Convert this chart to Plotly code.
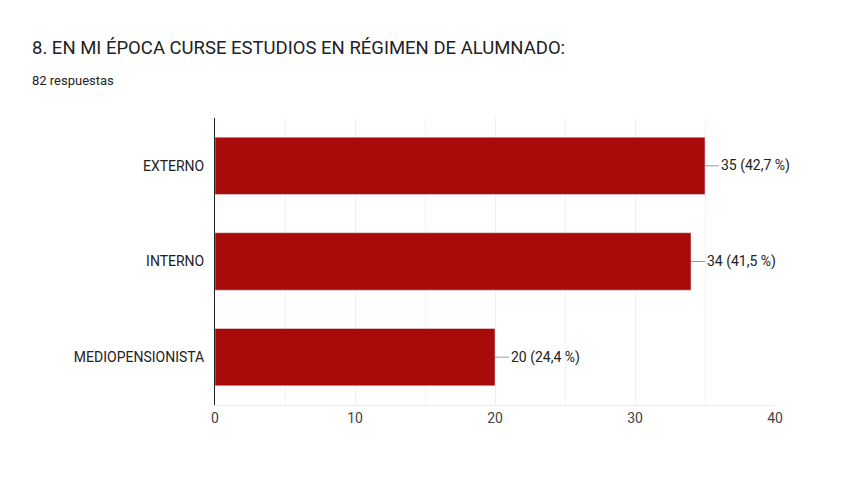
import plotly.graph_objects as go

categories = ["EXTERNO", "INTERNO", "MEDIOPENSIONISTA"]
counts = [35, 34, 20]
labels = ["35 (42,7 %)", "34 (41,5 %)", "20 (24,4 %)"]

fig = go.Figure(go.Bar(
    x=counts, y=categories, orientation="h",
    marker_color="#a90a0a", width=0.6, hoverinfo="skip",
))

for v, c, t in zip(counts, categories, labels):
    fig.add_annotation(x=v, y=c, text=t, showarrow=True, arrowhead=0,
                       arrowwidth=1, arrowcolor="#999999", ax=14, ay=0,
                       xanchor="left", font=dict(size=14, color="#222222"))

fig.add_annotation(text="8. EN MI ÉPOCA CURSE ESTUDIOS EN RÉGIMEN DE ALUMNADO:",
                   xref="paper", yref="paper", x=-185/560, y=1 + 70/287,
                   xanchor="left", yanchor="middle", showarrow=False,
                   font=dict(size=18.5, color="#222222"))
fig.add_annotation(text="82 respuestas", xref="paper", yref="paper",
                   x=-185/560, y=1 + 38/287, xanchor="left", yanchor="middle",
                   showarrow=False, font=dict(size=13, color="#222222"))

fig.update_layout(
    width=860, height=489, margin=dict(l=207, r=93, t=110, b=92),
    plot_bgcolor="white", paper_bgcolor="white",
    font=dict(family="Roboto, Arial, sans-serif", size=14, color="#222222"),
    showlegend=False,
    xaxis=dict(range=[0, 40], dtick=10, showgrid=True, gridcolor="#eeeeee",
               minor=dict(dtick=5, showgrid=True, gridcolor="#f3f3f3"),
               zeroline=False, showline=True, linecolor="#eeeeee",
               tickfont=dict(size=14, color="#444444")),
    yaxis=dict(autorange="reversed", showline=True, linecolor="#222222",
               ticks="", ticksuffix="  ", tickfont=dict(size=14, color="#222222")),
)

fig.write_html("out.html")
